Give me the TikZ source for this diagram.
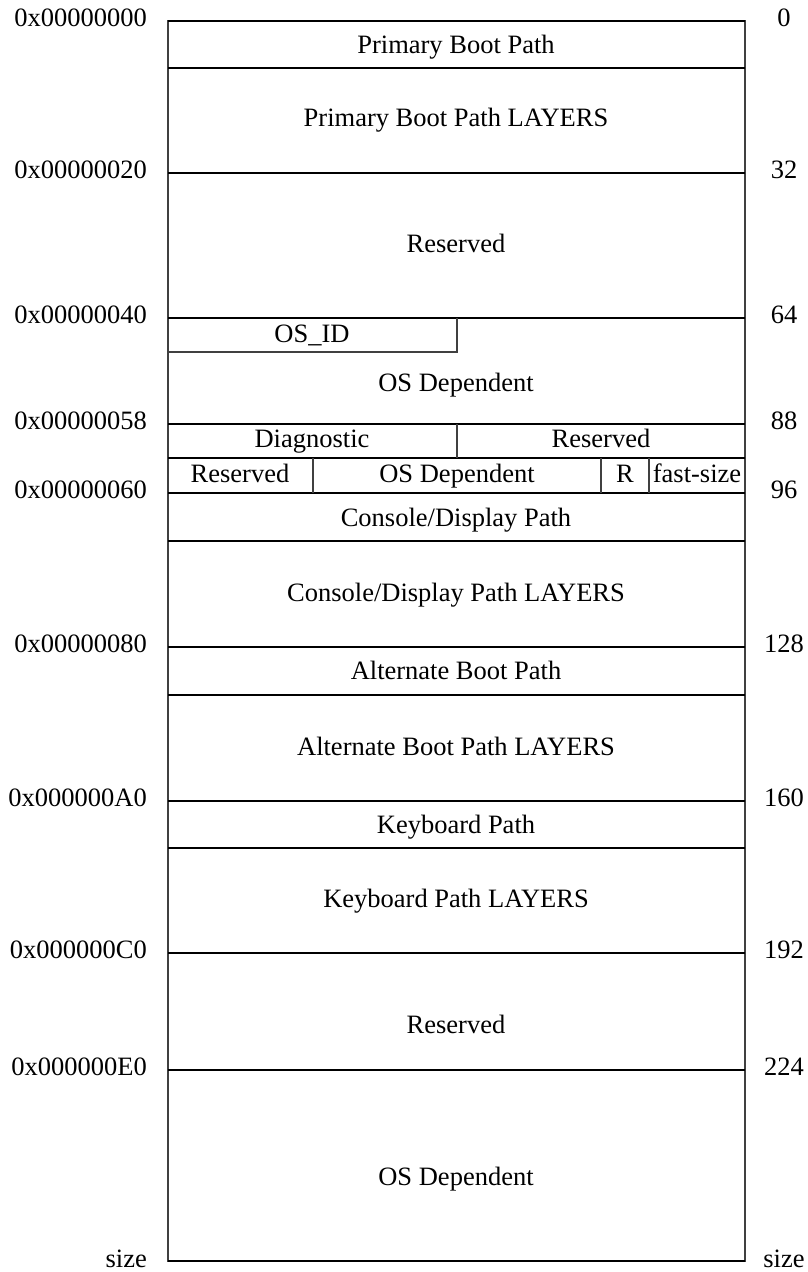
\documentclass[tikz,border=0pt]{standalone}
\usepackage{fontspec}
\setmainfont{Liberation Serif}
\begin{document}
\begin{tikzpicture}[x=1pt,y=-1pt,
  txt/.style={anchor=base, inner sep=0pt, font=\fontsize{26.5}{30}\selectfont},
  addr/.style={txt, anchor=base east},
  offs/.style={txt, anchor=base},
  rule/.style={line width=1.3pt, draw=black},
  edge/.style={line width=1.1pt, draw=black!75}]
\useasboundingbox (0,0) rectangle (807,1272);
% outer box
\coordinate (TL) at (168,21);
\coordinate (BR) at (745,1261);
\draw[edge] (TL) rectangle (BR);
% horizontal rules
\foreach \y in {21,68,173,318,424,458,493,541,647,695,801,848,953,1070,1261}
  \draw[rule] (168,\y) -- (745,\y);
% OS_ID box
\draw[edge] (168,352) -- (457,352) -- (457,318);
% vertical splits
\draw[edge] (457,424) -- (457,458);
\draw[edge] (313,458) -- (313,493);
\draw[edge] (601,458) -- (601,493);
\draw[edge] (649,458) -- (649,493);
% field texts
\node[txt] (pbp)  at (456,53)   {Primary Boot Path};
\node[txt] (pbpl) at (456,126)  {Primary Boot Path LAYERS};
\node[txt] (res1) at (456,252)  {Reserved};
\node[txt] (osid) at (312,342)  {OS\_ID};
\node[txt] (osd1) at (456,391)  {OS Dependent};
\node[txt] (diag) at (312,447)  {Diagnostic};
\node[txt] (res2) at (601,447)  {Reserved};
\node[txt] (res3) at (240,482)  {Reserved};
\node[txt] (osd2) at (457,482)  {OS Dependent};
\node[txt] (r)    at (625,482)  {R};
\node[txt] (fs)   at (697,482)  {fast-size};
\node[txt] (cdp)  at (456,526)  {Console/Display Path};
\node[txt] (cdpl) at (456,601)  {Console/Display Path LAYERS};
\node[txt] (abp)  at (456,679)  {Alternate Boot Path};
\node[txt] (abpl) at (456,755)  {Alternate Boot Path LAYERS};
\node[txt] (kp)   at (456,833)  {Keyboard Path};
\node[txt] (kpl)  at (456,907)  {Keyboard Path LAYERS};
\node[txt] (res4) at (456,1033) {Reserved};
\node[txt] (osd3) at (456,1185) {OS Dependent};
% address labels (left)
\node[addr] (a00) at (147,26)   {0x00000000};
\node[addr] (a20) at (147,178)  {0x00000020};
\node[addr] (a40) at (147,323)  {0x00000040};
\node[addr] (a58) at (147,429)  {0x00000058};
\node[addr] (a60) at (147,498)  {0x00000060};
\node[addr] (a80) at (147,652)  {0x00000080};
\node[addr] (aA0) at (147,806)  {0x000000A0};
\node[addr] (aC0) at (147,958)  {0x000000C0};
\node[addr] (aE0) at (147,1075) {0x000000E0};
\node[addr] (asz) at (147,1267) {size};
% offset labels (right)
\node[offs] (o0)   at (784,26)   {0};
\node[offs] (o32)  at (784,178)  {32};
\node[offs] (o64)  at (784,323)  {64};
\node[offs] (o88)  at (784,429)  {88};
\node[offs] (o96)  at (784,498)  {96};
\node[offs] (o128) at (784,652)  {128};
\node[offs] (o160) at (784,806)  {160};
\node[offs] (o192) at (784,958)  {192};
\node[offs] (o224) at (784,1075) {224};
\node[offs] (osz)  at (784,1267) {size};
\end{tikzpicture}
\end{document}
